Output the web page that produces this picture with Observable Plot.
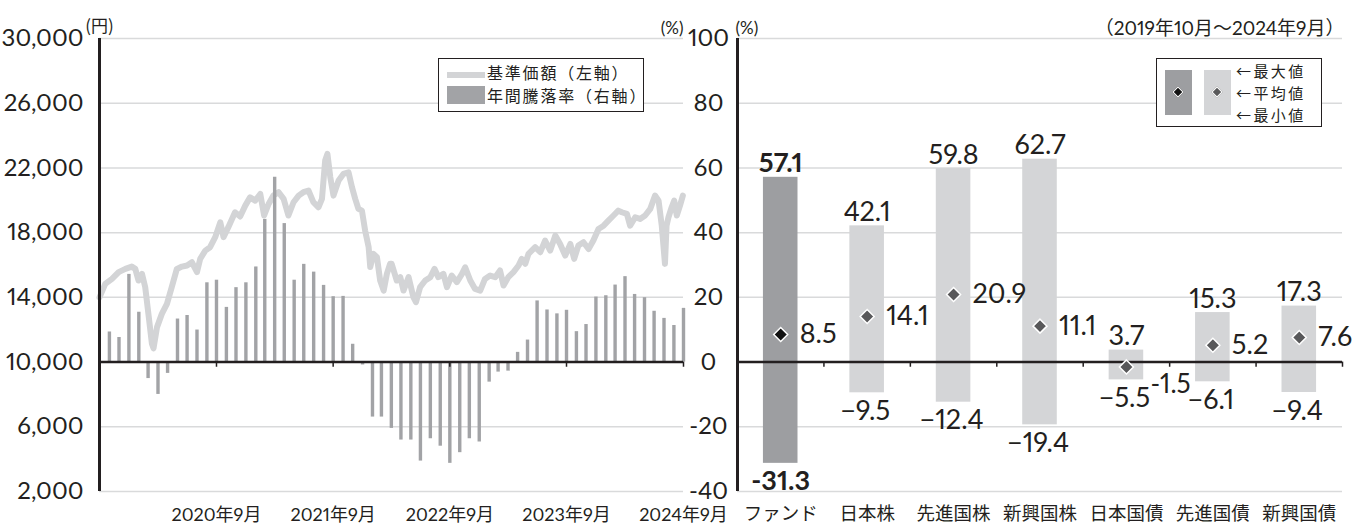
<!DOCTYPE html>
<html>
<head>
<meta charset="utf-8">
<script src="https://cdn.jsdelivr.net/npm/d3@7"></script>
<script src="https://cdn.jsdelivr.net/npm/@observablehq/plot@0.6"></script>
<style>
  body { margin: 0; background: #fff; font-family: Lato, "Noto Sans CJK JP", sans-serif; color: #231f20; }
  #wrap { position: relative; width: 1353px; height: 526px; overflow: hidden; }
  #left { position: absolute; left: 0; top: 0; width: 737px; }
  #right { position: absolute; left: 727px; top: 0; width: 626px; }
  .legend { position: absolute; background: #fff; border: 1.5px solid #231f20; box-sizing: border-box; }
  .legend .t { position: absolute; white-space: nowrap; font-family: "Noto Sans CJK JP", sans-serif; }
  .legend .sw { position: absolute; }
  .dia { position: absolute; width: 6px; height: 6px; transform: rotate(45deg); border: 1.2px solid #fff; }
  svg text { font-variant-numeric: proportional-nums; }
</style>
</head>
<body>
<div id="wrap">
  <div id="left"></div>
  <div id="right"></div>
  <div class="legend" style="left:438px;top:58px;width:206px;height:54px;">
    <div class="sw" style="left:8px;top:13px;width:38px;height:6px;background:#d3d4d6;"></div>
    <div class="sw" style="left:8px;top:27px;width:38px;height:18px;background:#a2a3a6;"></div>
    <div class="t" style="left:48px;top:2px;font-size:16px;line-height:23.4px;letter-spacing:1.8px;">基準価額（左軸）<br>年間騰落率（右軸）</div>
  </div>
  <div class="legend" style="left:1156px;top:58px;width:166px;height:69px;">
    <div class="sw" style="left:8px;top:11px;width:27px;height:45px;background:#9d9ea1;"></div>
    <div class="dia" style="left:17px;top:29px;background:#111;"></div>
    <div class="sw" style="left:47px;top:11px;width:27px;height:45px;background:#d4d5d7;"></div>
    <div class="dia" style="left:56px;top:29px;background:#58585a;"></div>
    <div class="t" style="left:79px;top:1px;font-size:15px;line-height:21.9px;letter-spacing:2.4px;">←最大値<br>←平均値<br>←最小値</div>
  </div>
</div>
<script>
// ---------- data: left panel ----------
const barMonths = [
  "2019-10","2019-11","2019-12",
  "2020-01","2020-02","2020-03","2020-04","2020-05","2020-06","2020-07","2020-08","2020-09","2020-10","2020-11","2020-12",
  "2021-01","2021-02","2021-03","2021-04","2021-05","2021-06","2021-07","2021-08","2021-09","2021-10","2021-11","2021-12",
  "2022-01","2022-02","2022-03","2022-04","2022-05","2022-06","2022-07","2022-08","2022-09","2022-10","2022-11","2022-12",
  "2023-01","2023-02","2023-03","2023-04","2023-05","2023-06","2023-07","2023-08","2023-09","2023-10","2023-11","2023-12",
  "2024-01","2024-02","2024-03","2024-04","2024-05","2024-06","2024-07","2024-08","2024-09"
];
const annualReturn = [
  9.3, 7.6, 27.1,
  15.4, -5.1, -10.0, -3.5, 13.3, 14.4, 9.9, 24.5, 25.3, 16.9, 23.0, 24.5,
  29.4, 44.1, 57.1, 42.8, 25.3, 30.2, 27.8, 23.7, 20.2, 20.3, 5.5, -0.9,
  -17.0, -17.0, -20.5, -24.1, -24.1, -30.6, -23.7, -26.0, -31.3, -28.0, -23.7, -24.7,
  -6.2, -3.1, -2.8, 3.0, 6.8, 18.9, 16.1, 14.9, 16.0, 9.4, 11.6, 20.1,
  20.5, 23.8, 26.4, 20.9, 19.9, 15.7, 13.5, 11.3, 16.6
];
const navDates = [
  "2019-09-30","2019-10-18","2019-11-08","2019-11-29","2019-12-20","2020-01-09","2020-01-20","2020-01-30",
  "2020-02-10","2020-02-20","2020-03-01","2020-03-12","2020-03-17","2020-03-28","2020-04-12","2020-04-28",
  "2020-05-13","2020-05-29","2020-06-14","2020-06-30","2020-07-15","2020-07-31","2020-08-10","2020-08-26",
  "2020-09-10","2020-09-26","2020-10-12","2020-10-22","2020-11-06","2020-11-27","2020-12-13","2020-12-29",
  "2021-01-13","2021-01-29","2021-02-14","2021-02-26","2021-03-12","2021-03-27","2021-04-12","2021-04-28",
  "2021-05-13","2021-05-29","2021-06-14","2021-06-29","2021-07-15","2021-07-30","2021-08-15","2021-08-26",
  "2021-09-05","2021-09-12","2021-09-21","2021-10-01","2021-10-17","2021-11-01","2021-11-17","2021-11-28",
  "2021-12-08","2021-12-18","2021-12-29","2022-01-08","2022-01-19","2022-01-24","2022-02-03","2022-02-14",
  "2022-02-24","2022-03-07","2022-03-17","2022-03-27","2022-04-01","2022-04-17","2022-04-28","2022-05-08",
  "2022-05-24","2022-06-08","2022-06-16","2022-06-29","2022-07-15","2022-07-31","2022-08-13","2022-08-25",
  "2022-09-10","2022-09-21","2022-10-06","2022-10-22","2022-11-07","2022-11-17","2022-12-03","2022-12-18",
  "2023-01-03","2023-01-18","2023-02-03","2023-02-19","2023-03-06","2023-03-17","2023-04-01","2023-04-17",
  "2023-05-03","2023-05-13","2023-05-24","2023-06-03","2023-06-24","2023-07-10","2023-07-25","2023-08-10",
  "2023-08-26","2023-09-10","2023-09-26","2023-10-12","2023-10-24","2023-11-06","2023-11-22","2023-12-08",
  "2023-12-23","2024-01-08","2024-01-24","2024-02-08","2024-02-24","2024-03-10","2024-03-21","2024-04-06",
  "2024-04-16","2024-05-02","2024-05-17","2024-06-02","2024-06-18","2024-07-03","2024-07-14","2024-07-24",
  "2024-08-03","2024-08-08","2024-08-14","2024-08-24","2024-09-01","2024-09-09","2024-09-19","2024-09-28"
];
const navValues = [
  14000,14830,15140,15560,15760,15900,15760,15040,
  15450,14630,12980,11130,10850,12160,12980,13600,
  14630,15760,15900,15970,16170,15560,16380,16890,
  17100,17720,18640,17720,18340,19260,19000,19670,
  20180,19980,20390,19060,19770,20290,20500,20090,
  19060,19880,20290,20500,20600,19880,19570,20090,
  22460,22870,21430,20290,21220,21630,21730,20800,
  20090,19470,19360,18130,17100,15870,16690,16480,
  15040,14420,15450,16070,16070,15040,15250,14420,
  15250,14010,13700,14630,15040,15250,15760,15250,
  15450,14630,15350,14940,15450,15860,15040,14520,
  14420,15140,15350,15250,15660,14730,15250,15560,
  15970,16380,16070,16690,17100,16790,17510,16890,
  17820,17300,16580,17300,16380,17200,17410,16990,
  17510,18230,18430,18740,19060,19360,19260,19160,
  18430,18950,18850,19060,19470,20290,19980,18430,
  16070,18430,18950,19570,19980,19060,19670,20290
];
const xTickMonths = ["2020-09","2021-09","2022-09","2023-09","2024-09"];
const xTickLabels = ["2020年9月","2021年9月","2022年9月","2023年9月","2024年9月"];
const pctTicks = [-40,-20,0,20,40,60,80,100];
const yenTickLabels = ["2,000","6,000","10,000","14,000","18,000","22,000","26,000","30,000"];
const pctTickLabels = ["-40","-20","0","20","40","60","80","100"];

// ---------- data: right panel ----------
const categories = ["ファンド","日本株","先進国株","新興国株","日本国債","先進国債","新興国債"];
const maxVals = [57.1, 42.1, 59.8, 62.7, 3.7, 15.3, 17.3];
const avgVals = [8.5, 14.1, 20.9, 11.1, -1.5, 5.2, 7.6];
const minVals = [-31.3, -9.5, -12.4, -19.4, -5.5, -6.1, -9.4];
const periodLabel = "（2019年10月～2024年9月）";

// ---------- helpers ----------
const FONT = 'Lato, "Noto Sans CJK JP", sans-serif';
const JP = '"Noto Sans CJK JP", sans-serif';
const INK = "#231f20";
const monthEnd = ym => d3.utcDay.offset(d3.utcMonth.offset(new Date(ym + "-01"), 1), -1);
const yenToPct = v => (v - 10000) / 200;   // 30,000円 ↔ 100%, 2,000円 ↔ -40%
const fmt = v => (v < 0 ? "\u2212" : "") + Math.abs(v).toFixed(1);   // long minus
const fmtH = v => (v < 0 ? "-" : "") + Math.abs(v).toFixed(1);       // short hyphen

const bars = barMonths.map((m, i) => ({date: monthEnd(m), value: annualReturn[i]}));
const nav = navDates.map((d, i) => ({date: new Date(d), pct: yenToPct(navValues[i])}));
const xTicks = xTickMonths.map((m, i) => ({date: monthEnd(m), label: xTickLabels[i]}));
const xStart = new Date("2019-09-30"), xEnd = new Date("2024-09-30");

const left = Plot.plot({
  width: 737, height: 526,
  marginTop: 38, marginBottom: 35, marginLeft: 99, marginRight: 54,
  x: {type: "utc", domain: [xStart, xEnd], axis: null},
  y: {domain: [-40, 100], axis: null},
  style: {background: "transparent", overflow: "visible", fontFamily: FONT, color: INK},
  marks: [
    Plot.ruleY(pctTicks.filter(d => d !== 0), {y: d => d, stroke: "#d9dadb", strokeWidth: 1.5}),
    Plot.line(nav, {x: "date", y: "pct", stroke: "#d3d4d6", strokeWidth: 6, strokeLinejoin: "round", strokeLinecap: "round"}),
    Plot.ruleX(bars, {x: "date", y1: 0, y2: "value", stroke: "#a2a3a6", strokeWidth: 3.4}),
    Plot.ruleY([0], {y: d => d, stroke: INK, strokeWidth: 2.5}),
    Plot.ruleX(xTicks, {x: "date", y1: 0, y2: -1.6, stroke: INK, strokeWidth: 1.5}),
    Plot.ruleX([xStart], {x: d => d, y1: -40, y2: 100, stroke: INK, strokeWidth: 3}),
    Plot.text(pctTicks, {y: d => d, text: (d, i) => yenTickLabels[i], frameAnchor: "left", dx: -16, textAnchor: "end", fontSize: 24, fill: INK}),
    Plot.text(pctTicks, {y: d => d, text: (d, i) => pctTickLabels[i], frameAnchor: "right", dx: 25, textAnchor: "middle", fontSize: 24, fill: INK}),
    Plot.text(xTicks, {x: "date", text: "label", frameAnchor: "bottom", dy: 29, fontSize: 18, fill: INK}),
    Plot.text(["(円)"], {text: d => d, frameAnchor: "top-left", textAnchor: "middle", dx: 0, dy: -19, fontSize: 17, fontFamily: JP, fill: INK}),
    Plot.text(["(%)"], {text: d => d, frameAnchor: "top-right", textAnchor: "end", dx: 0, dy: -17, fontSize: 17, fill: INK})
  ]
});
document.getElementById("left").appendChild(left);

// ---------- right panel ----------
const rows = categories.map((c, i) => ({i, cat: c, max: maxVals[i], avg: avgVals[i], min: minVals[i]}));
const fund = rows.filter(d => d.i === 0);
const others = rows.filter(d => d.i !== 0);
const dividers = rows.map(d => d.i + 0.5);
const half = 0.2;

const right = Plot.plot({
  width: 626, height: 526,
  marginTop: 38, marginBottom: 35, marginLeft: 10, marginRight: 11,
  x: {type: "linear", domain: [-0.5, categories.length - 0.5], axis: null},
  y: {domain: [-40, 100], axis: null},
  style: {background: "transparent", overflow: "visible", fontFamily: FONT, color: INK},
  marks: [
    Plot.ruleY(pctTicks.filter(d => d !== 0), {y: d => d, stroke: "#d9dadb", strokeWidth: 1.5}),
    Plot.rectY(fund, {x1: d => d.i - half, x2: d => d.i + half, y1: "min", y2: "max", fill: "#9d9ea1"}),
    Plot.rectY(others, {x1: d => d.i - half, x2: d => d.i + half, y1: "min", y2: "max", fill: "#d4d5d7"}),
    Plot.ruleY([0], {y: d => d, stroke: INK, strokeWidth: 2.5}),
    Plot.ruleX(dividers, {x: d => d, y1: 0, y2: -1.6, stroke: INK, strokeWidth: 1.5}),
    Plot.ruleX([-0.5], {x: d => d, y1: -40, y2: 100, stroke: INK, strokeWidth: 3}),
    Plot.dot(fund, {x: "i", y: "avg", symbol: "diamond2", r: 6.3, fill: "#111", stroke: "#fff", strokeWidth: 1.5}),
    Plot.dot(others, {x: "i", y: "avg", symbol: "diamond2", r: 6.3, fill: "#58585a", stroke: "#fff", strokeWidth: 1.5}),
    // max labels
    Plot.text(fund, {x: "i", y: "max", text: d => fmt(d.max), lineAnchor: "bottom", dy: -5, fontSize: 27, fontWeight: "bold", fill: INK}),
    Plot.text(others, {x: "i", y: "max", text: d => fmt(d.max), lineAnchor: "bottom", dy: -5, fontSize: 27, fill: INK}),
    // min labels
    Plot.text(fund, {x: "i", y: "min", text: d => fmtH(d.min), lineAnchor: "top", dy: 7, fontSize: 27, fontWeight: "bold", fill: INK}),
    Plot.text(others, {x: "i", y: "min", text: d => fmt(d.min), lineAnchor: "top", dy: 8, dx: -2, fontSize: 27, fill: INK}),
    // average labels
    Plot.text(rows.filter(d => d.avg >= 0), {x: "i", y: "avg", text: d => fmtH(d.avg), textAnchor: "start", dx: 19, fontSize: 27, fill: INK}),
    Plot.text(rows.filter(d => d.avg < 0), {x: "i", y: "avg", text: d => fmtH(d.avg), textAnchor: "start", dx: 24, dy: 18, fontSize: 26, fill: INK}),
    // category labels
    Plot.text(rows, {x: "i", text: "cat", frameAnchor: "bottom", dy: 28, fontSize: 18.5, fontFamily: JP, fill: INK}),
    Plot.text(["(%)"], {text: d => d, frameAnchor: "top-left", textAnchor: "start", dx: -2, dy: -17, fontSize: 17, fill: INK}),
    Plot.text([periodLabel], {text: d => d, frameAnchor: "top-right", dx: 2, dy: -17, textAnchor: "end", fontSize: 19, fill: INK})
  ]
});
document.getElementById("right").appendChild(right);
</script>
</body>
</html>
